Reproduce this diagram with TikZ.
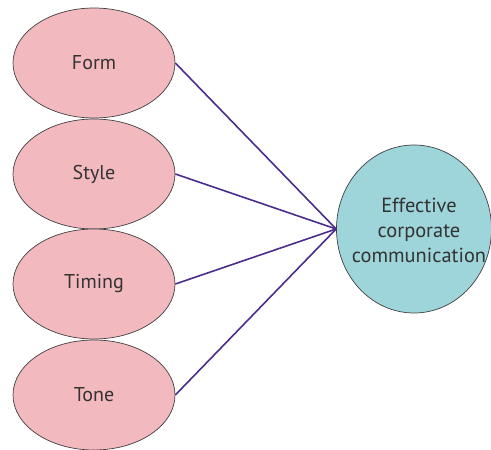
\documentclass[tikz,border=0pt]{standalone}
\usepackage{fontspec}
\setmainfont{PT Sans}
\usetikzlibrary{shapes.geometric}
\definecolor{pinkfill}{HTML}{F2B9BF}
\definecolor{tealfill}{HTML}{9DD5DA}
\definecolor{linkcol}{HTML}{4A2D8C}
\definecolor{txt}{HTML}{333333}
\tikzset{
  factor/.style={ellipse, draw=black!75, line width=0.7pt, fill=pinkfill,
    minimum width=162pt, minimum height=110pt, inner sep=0pt,
    font=\fontsize{20}{24}\selectfont, text=txt},
  goal/.style={ellipse, draw=black!75, line width=0.7pt, fill=tealfill,
    minimum width=155pt, minimum height=168pt, inner sep=0pt},
  goaltext/.style={font=\fontsize{20.4}{25}\selectfont, text=txt, align=center, inner sep=0pt},
  link/.style={draw=linkcol, line width=1.6pt}
}
\begin{document}
\begin{tikzpicture}[x=1pt,y=-1pt]
\useasboundingbox (0,0) rectangle (491,450);
\node[factor] (form) at (94,63) {Form};
\node[factor] (style) at (94,174) {Style};
\node[factor] (timing) at (94,284) {Timing};
\node[factor] (tone) at (94,395) {Tone};
\node[goal] (eff) at (414,229) {};
\node[goaltext] (efftext) at (419,230) {Effective\\corporate\\communication};
\foreach \n in {form,style,timing,tone}
  \draw[link] (\n.east) -- (eff.west);
\end{tikzpicture}
\end{document}
